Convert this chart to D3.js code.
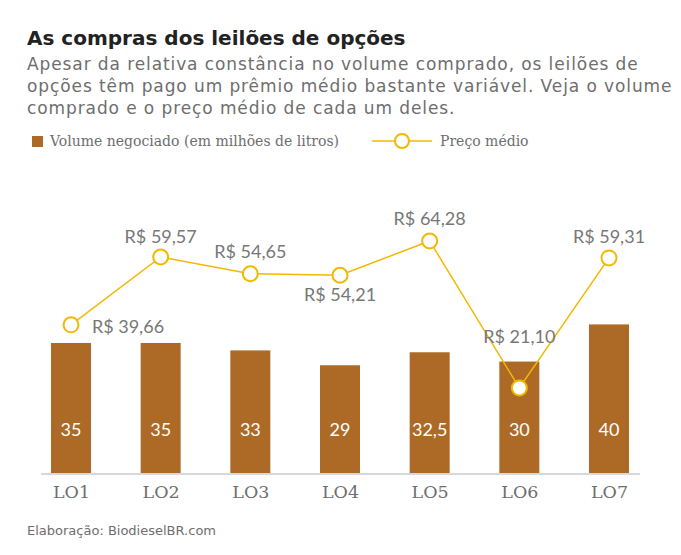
<!DOCTYPE html><html><head><meta charset="utf-8">
<script src="https://cdn.jsdelivr.net/npm/d3@7"></script>
<style>body{margin:0;background:#fff}svg{font-family:Lato,sans-serif}</style></head><body>
<script>
const categories=["LO1","LO2","LO3","LO4","LO5","LO6","LO7"];
const volumes=[35,35,33,29,32.5,30,40];
const volumeLabels=["35","35","33","29","32,5","30","40"];
const prices=[39.66,59.57,54.65,54.21,64.28,21.10,59.31];
const priceLabels=["R$ 39,66","R$ 59,57","R$ 54,65","R$ 54,21","R$ 64,28","R$ 21,10","R$ 59,31"];
const W=681,H=555;
const svg=d3.select("body").append("svg").attr("width",W).attr("height",H);
const gray="#6e6e6e",barC="#AD6A27",lineC="#F3B800";
const sans="'DejaVu Sans',sans-serif",slab="'DejaVu Serif',serif";
svg.append("text").attr("x",27).attr("y",45).attr("font-size",20).attr("font-weight",700).attr("font-family",sans).attr("fill","#222").text("As compras dos leilões de opções");
["Apesar da relativa constância no volume comprado, os leilões de","opções têm pago um prêmio médio bastante variável. Veja o volume","comprado e o preço médio de cada um deles."].forEach((t,i)=>
 svg.append("text").attr("x",27).attr("y",70+i*22).attr("font-size",17).attr("letter-spacing",0.9).attr("font-family",sans).attr("fill",gray).text(t));
svg.append("rect").attr("x",32).attr("y",136).attr("width",11).attr("height",11).attr("fill",barC);
svg.append("text").attr("x",50).attr("y",146).attr("font-size",14).attr("font-family",slab).attr("fill",gray).text("Volume negociado (em milhões de litros)");
svg.append("line").attr("x1",372).attr("x2",432).attr("y1",141).attr("y2",141).attr("stroke",lineC).attr("stroke-width",1.5);
svg.append("circle").attr("cx",402).attr("cy",141).attr("r",7).attr("fill","#fff").attr("stroke",lineC).attr("stroke-width",2);
svg.append("text").attr("x",440).attr("y",146).attr("font-size",14).attr("font-family",slab).attr("fill",gray).text("Preço médio");
const x=d3.scalePoint().domain(categories).range([71,609]);
const yb=d3.scaleLinear().domain([0,40]).range([473,324.4]);
const yp=d3.scaleLinear().domain([0,70]).range([459.8,221.5]);
svg.selectAll(".bar").data(volumes).join("rect").attr("class","bar").attr("x",(d,i)=>x(categories[i])-20).attr("width",40)
 .attr("y",d=>yb(d)).attr("height",d=>473-yb(d)).attr("fill",barC);
svg.selectAll(".vl").data(volumeLabels).join("text").attr("class","vl").attr("x",(d,i)=>x(categories[i])).attr("y",436)
 .attr("text-anchor","middle").attr("font-size",18).attr("fill","#fff").text(d=>d);
svg.append("line").attr("x1",41).attr("x2",640).attr("y1",474).attr("y2",474).attr("stroke","#d8d8d8").attr("stroke-width",2);
const ax=svg.append("g").attr("transform","translate(0,474)").call(d3.axisBottom(x).tickSize(0).tickPadding(12));
ax.select(".domain").remove();
ax.selectAll("text").attr("font-size",17.5).attr("fill",gray).attr("font-family",slab);
svg.append("path").datum(prices).attr("fill","none").attr("stroke",lineC).attr("stroke-width",1.5)
 .attr("d",d3.line().x((d,i)=>x(categories[i])).y(d=>yp(d)));
svg.selectAll(".pt").data(prices).join("circle").attr("class","pt").attr("cx",(d,i)=>x(categories[i])).attr("cy",d=>yp(d)).attr("r",7.5)
 .attr("fill","#fff").attr("stroke",lineC).attr("stroke-width",2);
const off=[[57,8],[0,-14],[0,-16],[0,26],[0,-16],[0,-45],[0,-15]];
svg.selectAll(".pl").data(priceLabels).join("text").attr("class","pl").attr("x",(d,i)=>x(categories[i])+off[i][0]).attr("y",(d,i)=>yp(prices[i])+off[i][1])
 .attr("text-anchor","middle").attr("font-size",18).attr("fill","#777").text(d=>d);
svg.append("text").attr("x",27).attr("y",535).attr("font-size",13).attr("font-family",sans).attr("fill",gray).text("Elaboração: BiodieselBR.com");
</script></body></html>
